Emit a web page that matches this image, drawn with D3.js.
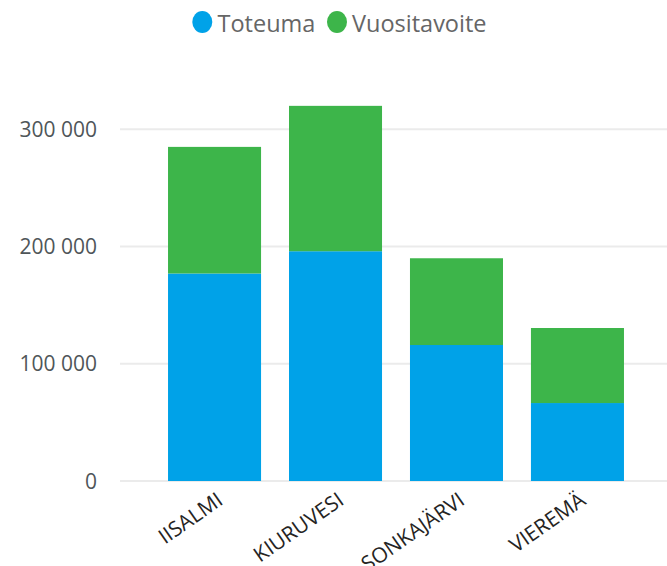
<!DOCTYPE html>
<html><head><meta charset="utf-8">
<script src="https://cdn.jsdelivr.net/npm/d3@7"></script>
<style>
html,body{margin:0;padding:0;background:#fff;}
text{font-family:"Segoe UI","Open Sans","Noto Sans",sans-serif;}
</style></head>
<body><svg id="c" width="667" height="566"></svg>
<script>
const categories = ["IISALMI", "KIURUVESI", "SONKAJÄRVI", "VIEREMÄ"];
const toteuma = [177000, 196000, 116000, 66500];
const vuositavoite = [108000, 124000, 74000, 64000];
const seriesNames = ["Toteuma", "Vuositavoite"];
const seriesColors = ["#00a2e8", "#3db54a"];
const yTicks = [0, 100000, 200000, 300000];

const svg = d3.select("#c");
const x0 = 120, x1 = 672, yBase = 481, yTop = 129.3;
const x = d3.scaleBand().domain(categories).range([x0, x1]).paddingInner(0.231).paddingOuter(0.397);
const y = d3.scaleLinear().domain([0, 300000]).range([yBase, yTop]);

// gridlines
svg.append("g").selectAll("line").data(yTicks).join("line")
  .attr("x1", 120).attr("x2", 667)
  .attr("y1", d => y(d)).attr("y2", d => y(d))
  .attr("stroke", "#ebebeb").attr("stroke-width", 2);

// y labels
const fmt = d => d3.format(",")(d).replace(/,/g, " ");
svg.append("g").selectAll("text").data(yTicks).join("text")
  .attr("x", 97).attr("y", d => y(d)).attr("dy", "0.36em")
  .attr("text-anchor", "end").attr("font-size", 21).attr("fill", "#4f5659")
  .text(fmt);

// stacked bars
const rows = categories.map((c, i) => ({cat: c, Toteuma: toteuma[i], Vuositavoite: vuositavoite[i]}));
const stack = d3.stack().keys(seriesNames)(rows);
svg.append("g").selectAll("g").data(stack).join("g")
  .attr("fill", (d, i) => seriesColors[i])
  .selectAll("rect").data(d => d).join("rect")
  .attr("x", d => x(d.data.cat)).attr("width", x.bandwidth())
  .attr("y", d => y(d[1])).attr("height", d => y(d[0]) - y(d[1]));

// x labels
svg.append("g").selectAll("text").data(categories).join("text")
  .attr("transform", d => `translate(${x(d) + x.bandwidth()/2 + 1},${yBase + 10}) rotate(-35)`)
  .attr("text-anchor", "end").attr("dy", "0.72em")
  .attr("font-size", 21).attr("fill", "#252423")
  .text(d => d);

// legend
const lg = svg.append("g");
const legendItems = [{name: seriesNames[0], color: seriesColors[0], cx: 202.3, tx: 217.5},
                     {name: seriesNames[1], color: seriesColors[1], cx: 337, tx: 352}];
lg.selectAll("ellipse").data(legendItems).join("ellipse")
  .attr("cx", d => d.cx).attr("cy", 22).attr("rx", 10).attr("ry", 11)
  .attr("fill", d => d.color);
lg.selectAll("text").data(legendItems).join("text")
  .attr("x", d => d.tx).attr("y", 32.3)
  .attr("font-size", 23.5).attr("fill", "#666666")
  .text(d => d.name);
</script></body></html>
